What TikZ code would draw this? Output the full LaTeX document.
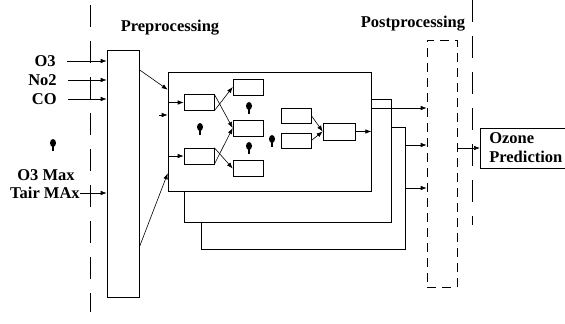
\documentclass[tikz,border=0pt]{standalone}
\usepackage{fontspec}
\setmainfont{Liberation Serif}
\usepackage{tikz}
\usetikzlibrary{arrows}
\usetikzlibrary{arrows.meta}

\begin{document}
\begin{tikzpicture}[x=1pt,y=-1pt,line width=0.6pt]
\tikzstyle{every node}=[font=\bfseries\fontsize{16.5}{19}\selectfont]
\tikzstyle{unit}=[draw,minimum width=30pt,minimum height=16pt,inner sep=0pt]
\tikzstyle{stage}=[draw,minimum width=32pt,minimum height=247pt,inner sep=0pt]
\tikzstyle{sep}=[dash pattern=on 22pt off 14pt]
\tikzstyle{conn}=[arrows={-Latex[length=6pt,width=4.5pt]}]
\tikzstyle{lbl}=[anchor=east,inner sep=0pt]
\useasboundingbox (0,0) rectangle (565,324);

\node (prel) at (170,28) {Preprocessing};
\node (postl) at (413,24) {Postprocessing};
\draw[sep] (90,5) -- (90,312);
\draw[sep] (472,0) -- (472,225);

\node[stage] (pre) at (123,173.5) {};
\node[stage,minimum width=30pt,dash pattern=on 9pt off 6pt] (post) at (442,163.5) {};
\node[draw,minimum width=203pt,minimum height=119pt,inner sep=0pt] (net) at (269.5,131.5) {};

% inputs
\node[lbl] (o3) at (56,61) {O3};
\node[lbl] (no2) at (57,80) {No2};
\node[lbl] (co) at (57,99) {CO};
\node (omax) at (46,175) {O3 Max};
\node[lbl] (tmax) at (80,193) {Tair MAx};
\foreach \n in {o3,no2,co}
  \draw[conn] ([xshift=11pt]\n.east) -- (\n.east -| pre.west);
\draw[conn] (tmax.east) -- (tmax.east -| pre.west);

% network
\node[unit] (i1) at (199,102.5) {};
\node[unit] (i2) at (199,156) {};
\node[unit] (h1) at (248,87) {};
\node[unit] (h2) at (248,128) {};
\node[unit] (h3) at (248,168.5) {};
\node[unit,minimum height=15pt] (o1) at (296,115.5) {};
\node[unit,minimum height=15pt] (o2) at (296,140.5) {};
\node[unit,minimum width=32pt,minimum height=17pt] (sum) at (339,131.5) {};
\node[draw,anchor=west,align=left,text width=80pt,minimum height=40pt,inner xsep=9pt] (out) at (480,148) {Ozone\\Prediction};

\foreach \x/\y in {53/143,200/127,249/106,249/146,272/139} {
  \fill (\x,\y) ellipse (3 and 4);
  \draw[line width=1.4pt] (\x,\y) -- ++(0,7.5);
}

\coordinate (stub) at (159,115);
\draw[conn] ([yshift=-20pt]pre.north east) -- ([yshift=-18pt]net.north west);
\draw[conn] ([yshift=50pt]pre.south east) -- ([yshift=18pt]net.south west);
\draw[conn] (stub) -- (stub -| net.west);
\draw[conn] (net.west |- i1) -- (i1.west);
\draw[conn] (net.west |- i2) -- (i2.west);
\draw[conn] (i1.south east) -- (h1.west);
\draw[conn] (i1.north east) -- (h2.west);
\draw[conn] (i2.south east) -- (h2.west);
\draw[conn] (i2.north east) -- (h3.west);
\draw[conn] (o1.east) -- (sum.west);
\draw[conn] (o2.east) -- (sum.west);
\draw[conn] (sum.east) -- (net.east);

% feedback and postprocessing
\coordinate (fa) at (391,222);
\coordinate (fb) at (405,249);
\coordinate (nb) at (391,127);
\coordinate (fc) at (201,222);
\coordinate (na) at ([yshift=32.5pt]net.east);
\coordinate (nq) at ([yshift=23.5pt]net.east);
\coordinate (pb1) at (405,145);
\coordinate (pb2) at (405,188);
\draw (na) -| (fa) -| ([xshift=17pt]net.south west);
\draw (nb) -| (fb) -| (fc);
\draw[conn] (nq) -- (nq -| post.west);
\draw[conn] (pb1) -- (pb1 -| post.west);
\draw[conn] (pb2) -- (pb2 -| post.west);
\draw[conn] (post.east |- out) -- (out.west);
\end{tikzpicture}
\end{document}
